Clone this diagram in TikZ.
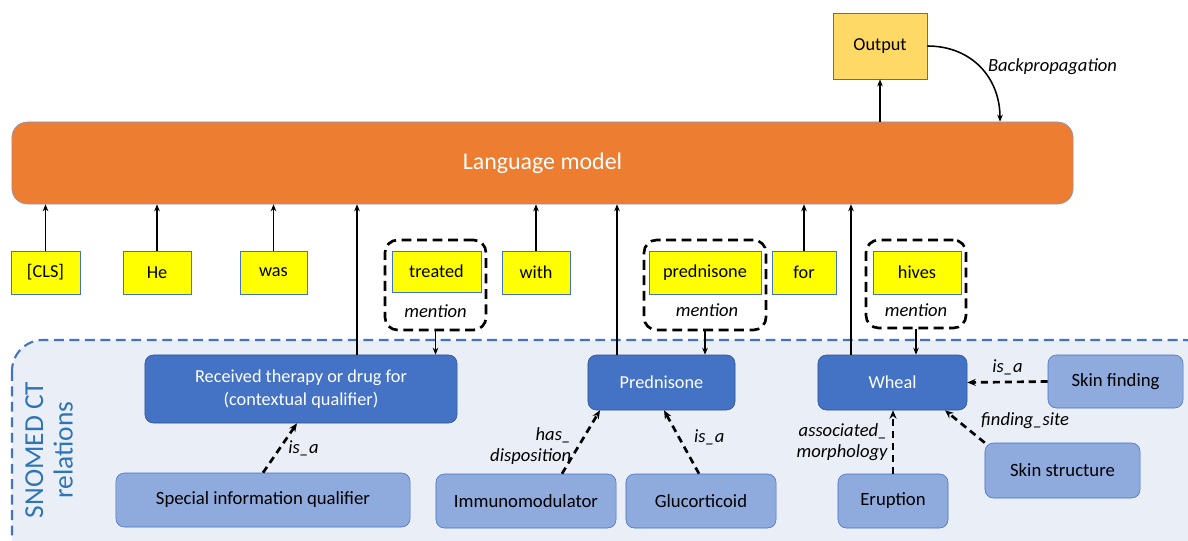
\documentclass[tikz,border=0pt]{standalone}
\usepackage{fontspec}
\setmainfont{Carlito}
\usetikzlibrary{arrows.meta}
\definecolor{lmorange}{HTML}{ED7D31}
\definecolor{outyellow}{HTML}{FFD966}
\definecolor{tokyellow}{HTML}{FFFF00}
\definecolor{snoblue}{HTML}{4472C4}
\definecolor{snodark}{HTML}{2F528F}
\definecolor{snolight}{HTML}{8FAADC}
\definecolor{snobg}{HTML}{EAEEF6}
\definecolor{snotext}{HTML}{2E75B6}

\begin{document}
\begin{tikzpicture}[x=0.025cm, y=-0.025cm,
  tok/.style={fill=tokyellow, draw=snoblue, line width=0.4pt, minimum height=1.075cm, inner sep=0pt, font=\fontsize{13}{15}\selectfont},
  mention/.style={draw, line width=1.9pt, dash pattern=on 7pt off 4pt, rounded corners=9pt, inner sep=0pt},
  concept/.style={fill=snoblue, draw=snodark, line width=0.4pt, rounded corners=6pt, text=white, align=center, inner sep=0pt, font=\fontsize{13}{16}\selectfont},
  related/.style={fill=snolight, draw=snoblue, line width=0.4pt, rounded corners=6pt, inner sep=0pt, minimum height=1.35cm, font=\fontsize{13.3}{16}\selectfont},
  up/.style={-{Stealth[length=5pt,width=4pt]}, line width=1.1pt},
  rel/.style={-{Stealth[length=6pt,width=5pt]}, line width=1.9pt, dash pattern=on 5pt off 3.5pt},
  lbl/.style={font=\itshape\fontsize{13.2}{15}\selectfont, inner sep=2pt}]

\clip (0,0) rectangle (1188,540);
\useasboundingbox (0,0) rectangle (1188,540);

% SNOMED CT area
\draw[fill=snobg, draw=snoblue, line width=1.5pt, dash pattern=on 7pt off 4pt, rounded corners=22pt] (12,340) rectangle (1215,575);
\node[text=snotext, rotate=90, align=center, font=\fontsize{19.5}{21}\selectfont] (snomed) at (49,450) {SNOMED CT\\relations};

% model and output
\node[fill=lmorange, draw=snoblue!70, line width=0.4pt, rounded corners=11pt, minimum width=26.525cm, minimum height=2.05cm, text=white, font=\fontsize{17}{20}\selectfont] (lm) at (542.5,163) {Language model};
\node[fill=outyellow, draw=snoblue, line width=0.5pt, minimum width=2.35cm, minimum height=1.65cm, font=\fontsize{13}{15}\selectfont] (out) at (880,46) {Output};
\draw[up] (out.south |- lm.north) -- (out.south);
\draw[up] (out.east) .. controls (972,46) and (1000,78) .. (1000,0 |- lm.north);
\node[lbl, anchor=west] (backprop) at (985,67) {Backpropagation};

% tokens
\node[tok, minimum width=1.725cm] (cls) at (45.5,272.5) {[CLS]};
\node[tok, minimum width=1.7cm] (he) at (157,272.5) {He};
\node[tok, minimum width=1.675cm] (was) at (273.5,272.5) {was};
\node[tok, minimum width=2.225cm, minimum height=1.025cm] (treated) at (436.5,271.5) {treated};
\node[tok, minimum width=1.7cm] (with) at (536,272.5) {with};
\node[tok, minimum width=2.8cm] (prednisone) at (705,272.5) {prednisone};
\node[tok, minimum width=1.6cm] (for) at (804,272.5) {for};
\node[tok, minimum width=2.2cm] (hives) at (917,272.5) {hives};

\foreach \t in {cls, he, was, with, for}
  \draw[up] (\t) -- (\t |- lm.south);

% mentions
\node[mention, minimum width=2.525cm, minimum height=2.25cm] (mtreated) at (435.5,285) {};
\node[mention, minimum width=3.05cm, minimum height=2.25cm] (mprednisone) at (705,285) {};
\node[mention, minimum width=2.5cm, minimum height=2.2cm] (mhives) at (916,284) {};
\node[lbl] (ltreated) at (435.5,311) {mention};
\node[lbl] (lprednisone) at (707,310) {mention};
\node[lbl] (lhives) at (916,310) {mention};

% concepts
\node[concept, minimum width=7.8cm, minimum height=1.7cm] (rtd) at (301,389) {Received therapy or drug for\\(contextual qualifier)};
\node[concept, minimum width=3.675cm, minimum height=1.375cm] (pred) at (661.5,382.5) {Prednisone};
\node[concept, minimum width=3.725cm, minimum height=1.375cm] (wheal) at (892.5,382.5) {Wheal};

\node[related, minimum width=7.35cm] (special) at (263,500) {Special information qualifier};
\node[related, minimum width=4.5cm] (immuno) at (526,501) {Immunomodulator};
\node[related, minimum width=3.75cm] (gluc) at (701,501) {Glucorticoid};
\node[related, minimum width=2.75cm] (erup) at (893,501) {Eruption};
\node[related, minimum width=3.875cm, minimum height=1.375cm] (skinstr) at (1062.5,470.5) {Skin structure};
\node[related, minimum width=3.375cm, minimum height=1.325cm] (skinfind) at (1115.5,381.5) {Skin finding};

\draw[up] (mtreated.south) -- (mtreated.south |- rtd.north);
\draw[up] (mprednisone.south) -- (mprednisone.south |- pred.north);
\draw[up] (mhives.south) -- (mhives.south |- wheal.north);

\draw[up] (357,0 |- rtd.north) -- (357,0 |- lm.south);
\draw[up] (617,0 |- pred.north) -- (617,0 |- lm.south);
\draw[up] (851,0 |- wheal.north) -- (851,0 |- lm.south);

% relations
\draw[rel] (263,0 |- special.north) -- node[lbl, right, xshift=3pt]{is\_a} (297,0 |- rtd.south);
\draw[rel] (562,0 |- immuno.north) -- node[lbl, left, align=right, xshift=-4pt, yshift=-3pt]{has\_\\disposition} (600,0 |- pred.south);
\draw[rel] (699,0 |- gluc.north) -- node[lbl, right, xshift=6pt, yshift=3pt]{is\_a} (664,0 |- pred.south);
\draw[rel] (erup) -- node[lbl, left, align=right, xshift=-1pt]{associated\_\\morphology} (erup |- wheal.south);
\draw[rel] (skinstr.north west) -- node[lbl, above right, pos=0.3, xshift=3pt]{finding\_site} (945,0 |- wheal.south);
\draw[rel] (skinfind.west) -- node[lbl, above, yshift=2pt]{is\_a} (wheal.east);
\end{tikzpicture}
\end{document}
